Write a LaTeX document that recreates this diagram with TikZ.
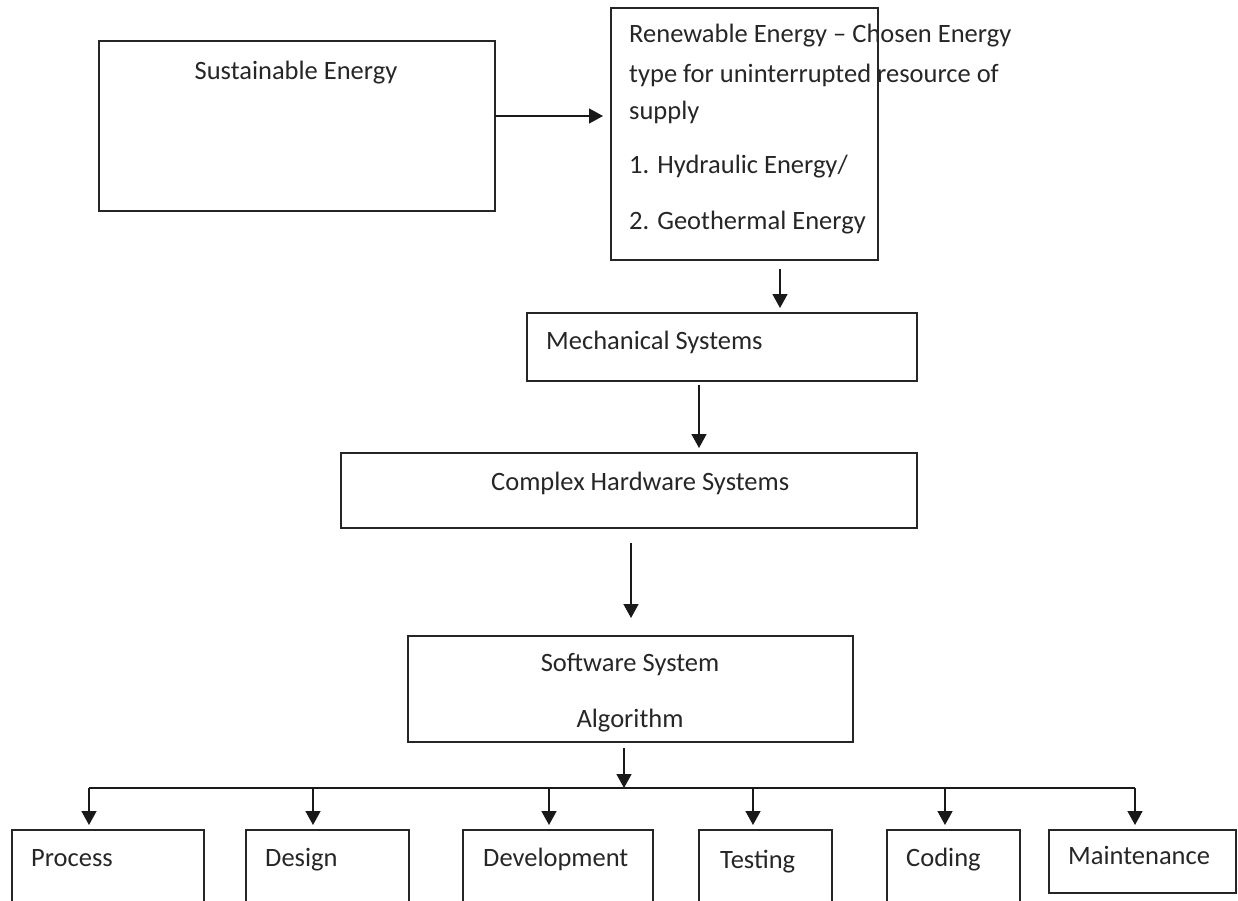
\documentclass[tikz,border=0pt]{standalone}
\usepackage{fontspec}
\setmainfont{Carlito}
\usetikzlibrary{arrows.meta}
\begin{document}
\begin{tikzpicture}[x=1pt,y=-1pt,
  box/.style={draw=black!85,line width=1.5pt,anchor=north west,inner sep=0pt,outer sep=0pt},
  txt/.style={anchor=base west,inner sep=0pt,font=\fontsize{26.5}{30}\selectfont,text=black!85},
  ctxt/.style={anchor=base,inner sep=0pt,font=\fontsize{26.5}{30}\selectfont,text=black!85},
  arr/.style={draw=black!90,line width=1.5pt,-{Triangle[width=15pt,length=14pt]}},
  ln/.style={draw=black!90,line width=1.5pt}]
\useasboundingbox (0,0) rectangle (1238,900);
\clip (0,0) rectangle (1238,900);
% top boxes
\node[box,minimum width=396pt,minimum height=170pt] (sust) at (99,41) {};
\node[ctxt] (tsust) at (296,79) {Sustainable Energy};
\node[box,minimum width=267pt,minimum height=252pt] (ren) at (611,8) {};
\node[txt] (r1) at (629,42) {Renewable Energy – Chosen Energy};
\node[txt] (r2) at (629,82) {type for uninterrupted resource of};
\node[txt] (r3) at (629,119) {supply};
\node[txt] (r4) at (629,173) {1. Hydraulic Energy/};
\node[txt] (r5) at (629,229) {2. Geothermal Energy};
% middle boxes
\node[box,minimum width=390pt,minimum height=68pt] (mech) at (527,313) {};
\node[txt] (tmech) at (546,349) {Mechanical Systems};
\node[box,minimum width=576pt,minimum height=75pt] (hw) at (341,453) {};
\node[txt] (thw) at (491,490) {Complex Hardware Systems};
\node[box,minimum width=445pt,minimum height=106pt] (sw) at (408,636) {};
\node[ctxt] (tsw1) at (630,671) {Software System};
\node[ctxt] (tsw2) at (630,727) {Algorithm};
% bottom boxes
\node[box,minimum width=192pt,minimum height=90pt] (p) at (12,830) {};
\node[txt] (tp) at (31,866) {Process};
\node[box,minimum width=163pt,minimum height=90pt] (d) at (246,830) {};
\node[txt] (td) at (265,866) {Design};
\node[box,minimum width=190pt,minimum height=90pt] (dv) at (463,830) {};
\node[txt] (tdv) at (483,866) {Development};
\node[box,minimum width=133pt,minimum height=90pt] (t) at (699,830) {};
\node[txt] (tt) at (720,868) {Testing};
\node[box,minimum width=133pt,minimum height=90pt] (c) at (887,830) {};
\node[txt] (tc) at (906,866) {Coding};
\node[box,minimum width=187pt,minimum height=63pt] (m) at (1049,830) {};
\node[txt] (tm) at (1068,864) {Maintenance};
% connectors
\draw[arr] (sust.east |- 0,116) -- ([xshift=-8pt]ren.west |- 0,116);
\draw[arr] ([yshift=-9pt]ren.south -| 780,0) -- ([yshift=5pt]mech.north -| 780,0);
\draw[arr] ([yshift=-4pt]mech.south -| 699,0) -- ([yshift=5pt]hw.north -| 699,0);
\draw[arr] ([yshift=-15pt]hw.south -| 631,0) -- ([yshift=18pt]sw.north -| 631,0);
\coordinate (fork) at (624,788);
\draw[arr] ([yshift=-6pt]sw.south -| fork) -- (fork);
\draw[ln] (fork -| 89,0) -- (fork -| 1135,0);
\foreach \n/\x in {p/89,d/313,dv/549,t/753,c/945,m/1135}{
  \draw[arr] (fork -| \x,0) -- ([yshift=5pt]\n.north -| \x,0);
}
\end{tikzpicture}
\end{document}
